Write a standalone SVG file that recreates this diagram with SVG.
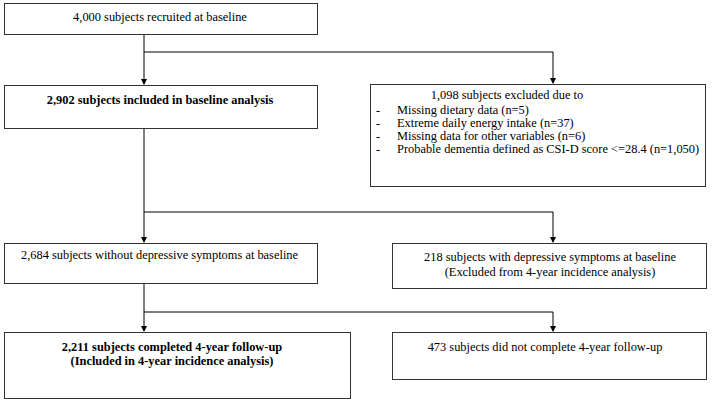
<svg xmlns="http://www.w3.org/2000/svg" width="720" height="403" viewBox="0 0 720 403">
<defs>
<marker id="ah" markerWidth="6" markerHeight="6" refX="5" refY="3" orient="auto" markerUnits="userSpaceOnUse">
<path d="M0,0 L6,3 L0,6 Z" fill="#000"/>
</marker>
<style>
.box{fill:#fff;stroke:#333;stroke-width:1}
.t{font-family:"Liberation Serif","Times New Roman",serif;font-size:12.4px;fill:#000}
.b{font-weight:bold}
.c{text-anchor:middle}
.ln{fill:none;stroke:#000;stroke-width:1}
</style>
</defs>
<rect width="720" height="403" fill="#fff"/>
<g id="connectors">
<path class="ln" d="M144,34 V84" marker-end="url(#ah)"/>
<path class="ln" d="M144,52 H553 V83" marker-end="url(#ah)"/>
<path class="ln" d="M144,129 V242" marker-end="url(#ah)"/>
<path class="ln" d="M144,212 H553 V242" marker-end="url(#ah)"/>
<path class="ln" d="M144,284 V331" marker-end="url(#ah)"/>
<path class="ln" d="M144,312 H553 V331" marker-end="url(#ah)"/>
</g>
<g id="n1">
<rect class="box" x="4.5" y="3.5" width="313" height="31"/>
<text class="t c" x="160" y="21">4,000 subjects recruited at baseline</text>
</g>
<g id="n2">
<rect class="box" x="4.5" y="85.5" width="313" height="43"/>
<text class="t c b" x="160" y="104">2,902 subjects included in baseline analysis</text>
</g>
<g id="n3">
<rect class="box" x="370.5" y="84.5" width="335" height="102"/>
<text class="t c" x="507" y="99">1,098 subjects excluded due to</text>
<text class="t" x="376" y="114">-</text>
<text class="t" x="397" y="114">Missing dietary data (n=5)</text>
<text class="t" x="376" y="127">-</text>
<text class="t" x="397" y="127">Extreme daily energy intake (n=37)</text>
<text class="t" x="376" y="140">-</text>
<text class="t" x="397" y="140">Missing data for other variables (n=6)</text>
<text class="t" x="376" y="153">-</text>
<text class="t" x="397" y="153">Probable dementia defined as CSI-D score &lt;=28.4 (n=1,050)</text>
</g>
<g id="n4">
<rect class="box" x="4.5" y="243.5" width="313" height="40"/>
<text class="t c" x="159.5" y="259">2,684 subjects without depressive symptoms at baseline</text>
</g>
<g id="n5">
<rect class="box" x="392.5" y="243.5" width="314" height="45"/>
<text class="t c" x="550" y="261">218 subjects with depressive symptoms at baseline</text>
<text class="t c" x="550" y="276">(Excluded from 4-year incidence analysis)</text>
</g>
<g id="n6">
<rect class="box" x="4.5" y="332.5" width="346" height="66"/>
<text class="t c b" x="172" y="351">2,211 subjects completed 4-year follow-up</text>
<text class="t c b" x="172" y="365">(Included in 4-year incidence analysis)</text>
</g>
<g id="n7">
<rect class="box" x="392.5" y="332.5" width="314" height="47"/>
<text class="t c" x="545" y="351">473 subjects did not complete 4-year follow-up</text>
</g>
</svg>
